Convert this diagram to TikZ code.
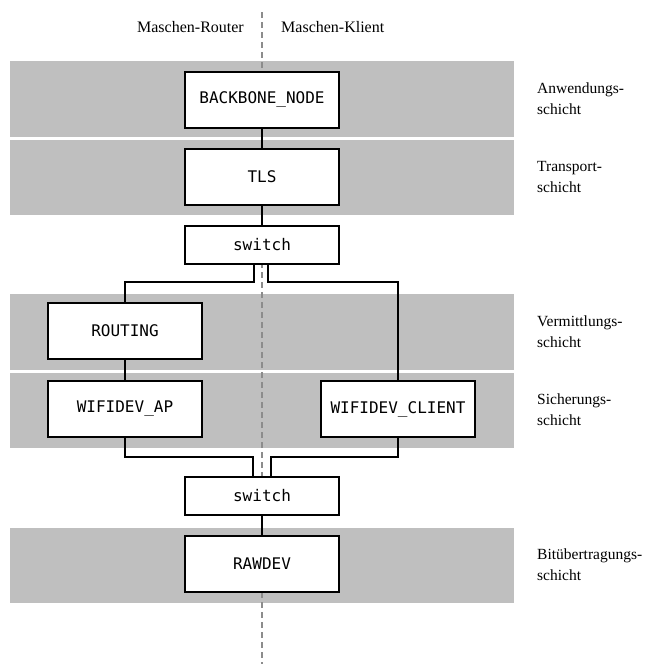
\documentclass[tikz,border=0pt]{standalone}
\usepackage{fontspec}
\setmainfont{Liberation Serif}
\setmonofont{DejaVu Sans Mono}
\begin{document}
\begin{tikzpicture}[x=1pt,y=-1pt,
  band/.style={fill=gray!50,draw=none},
  mod/.style={draw=black,line width=2pt,fill=white,inner sep=0pt,
    minimum width=154pt,minimum height=56pt,font=\fontsize{16}{19}\selectfont\ttfamily},
  sw/.style={mod,minimum height=38pt},
  conn/.style={line width=2pt,black},
  layerlbl/.style={anchor=west,align=left,inner sep=0pt,font=\fontsize{15.5}{21}\selectfont},
  toplbl/.style={inner sep=0pt,font=\fontsize{16}{19}\selectfont},
  divider/.style={draw=gray!90,line width=1.6pt,dash pattern=on 6pt off 4pt}]
\useasboundingbox (0,0) rectangle (648,664);
% bands
\fill[band] (10,61) rectangle (514,137);
\fill[band] (10,140) rectangle (514,215);
\fill[band] (10,294) rectangle (514,370);
\fill[band] (10,373) rectangle (514,448);
\fill[band] (10,528) rectangle (514,603);
% divider
\coordinate (dtop) at (262,12);
\coordinate (dbot) at (262,664);
\draw[divider] (dtop) -- (dbot);
% top labels
\node[toplbl,anchor=east] (router) at (244,27) {Maschen-Router};
\node[toplbl,anchor=west] (klient) at (281,27) {Maschen-Klient};
% layer labels
\node[layerlbl] (l1) at (537,99) {Anwendungs-\\schicht};
\node[layerlbl] (l2) at (537,177) {Transport-\\schicht};
\node[layerlbl] (l3) at (537,332) {Vermittlungs-\\schicht};
\node[layerlbl] (l4) at (537,410) {Sicherungs-\\schicht};
\node[layerlbl] (l5) at (537,565) {Bitübertragungs-\\schicht};
% modules
\node[mod] (bb) at (262,99.5) {BACKBONE\_NODE};
\node[mod] (tls) at (262,176.5) {TLS};
\node[sw] (sw1) at (262,245) {switch};
\node[mod] (rt) at (125,331) {ROUTING};
\node[mod] (ap) at (125,409) {WIFIDEV\_AP};
\node[mod] (cl) at (398,409) {WIFIDEV\_CLIENT};
\node[sw] (sw2) at (262,496) {switch};
\node[mod] (raw) at (262,564) {RAWDEV};
% connectors
\draw[conn] (bb) -- (tls);
\draw[conn] (tls) -- (sw1);
\draw[conn] ([xshift=-8pt]sw1.south) |- (125,282) -- (rt.north);
\draw[conn] ([xshift=6pt]sw1.south) |- (398,282) -- (cl.north);
\draw[conn] (rt) -- (ap);
\draw[conn] (ap.south) |- (253,457) -- ([xshift=-9pt]sw2.north);
\draw[conn] (cl.south) |- (271,457) -- ([xshift=9pt]sw2.north);
\draw[conn] (sw2) -- (raw);
\end{tikzpicture}
\end{document}
